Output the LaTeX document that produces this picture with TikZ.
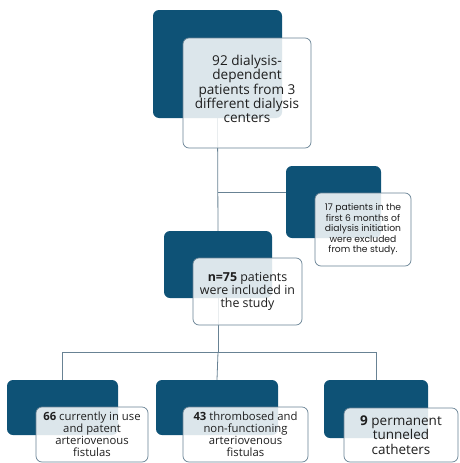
\documentclass[tikz,border=0pt]{standalone}
\usepackage{fontspec}
\setmainfont{Open Sans}
\newfontfamily\geofont{Poppins}
\definecolor{boxblue}{RGB}{14,82,118}
\definecolor{linegray}{RGB}{104,130,148}
\definecolor{textgray}{RGB}{30,30,30}

\begin{document}
\begin{tikzpicture}[x=1pt,y=-1pt,
  back/.style={fill=boxblue, rounded corners=6pt, inner sep=0pt},
  card/.style={draw=linegray, line width=0.7pt, fill=white, fill opacity=0.86, text opacity=1, text=textgray, rounded corners=6pt, inner sep=2pt, align=center},
  link/.style={draw=linegray, line width=0.8pt}]
\useasboundingbox (0,0) rectangle (459,463);
\node [back, minimum width=129pt, minimum height=108pt] (topback) at (217.5,64) {};
\node [back, minimum width=95pt, minimum height=72pt] (exclback) at (333.5,202) {};
\node [back, minimum width=108pt, minimum height=67pt] (midback) at (218,264.5) {};
\node [back, minimum width=111pt, minimum height=55pt] (leftback) at (62.5,407.5) {};
\node [back, minimum width=122pt, minimum height=55pt] (centback) at (217,407.5) {};
\node [back, minimum width=104pt, minimum height=58pt] (rightback) at (376,409) {};
\coordinate (branch) at (218,192);
\coordinate (bus) at (218,352);
\draw [link] (topback.south) -- (midback.north);
\draw [link] (branch) -- (branch -| exclback.west);
\draw [link] (midback.south) -- (bus);
\draw [link] (bus -| leftback.north) -- (bus -| rightback.north);
\draw [link] (bus -| leftback.north) -- (leftback.north);
\draw [link] (bus) -- (centback.north);
\draw [link] (bus -| rightback.north) -- (rightback.north);
\node [card, minimum width=128pt, minimum height=110pt] (top) at (247,93) {};
\node [text=textgray, align=center, font=\fontsize{13.6}{13.6}\selectfont] (toptext) at (top.center) [yshift=4pt] {92 dialysis-\\dependent\\patients from 3\\different dialysis\\centers};
\node [card, minimum width=96pt, minimum height=73pt, font=\geofont\fontsize{9.2}{10.5}\selectfont] (excl) at (363,229.5) {17 patients in the\\first 6 months of\\dialysis initiation\\were excluded\\from the study.};
\node [card, minimum width=109pt, minimum height=67pt, font=\fontsize{12.4}{13.4}\selectfont] (mid) at (247.5,291.5) {\textbf{n=75} patients\\were included in\\the study};
\node [card, minimum width=112pt, minimum height=55pt, font=\fontsize{11.3}{12}\selectfont] (left) at (92,434.5) {\textbf{66} currently in use\\and patent\\arteriovenous\\fistulas};
\node [card, minimum width=125pt, minimum height=55pt, font=\fontsize{11.3}{12}\selectfont] (cent) at (245.5,434.5) {\textbf{43} thrombosed and\\non-functioning\\arteriovenous\\fistulas};
\node [card, minimum width=114pt, minimum height=54pt, font=\fontsize{13.5}{14.2}\selectfont] (right) at (401,435) {\textbf{9} permanent\\tunneled\\catheters};
\end{tikzpicture}
\end{document}
